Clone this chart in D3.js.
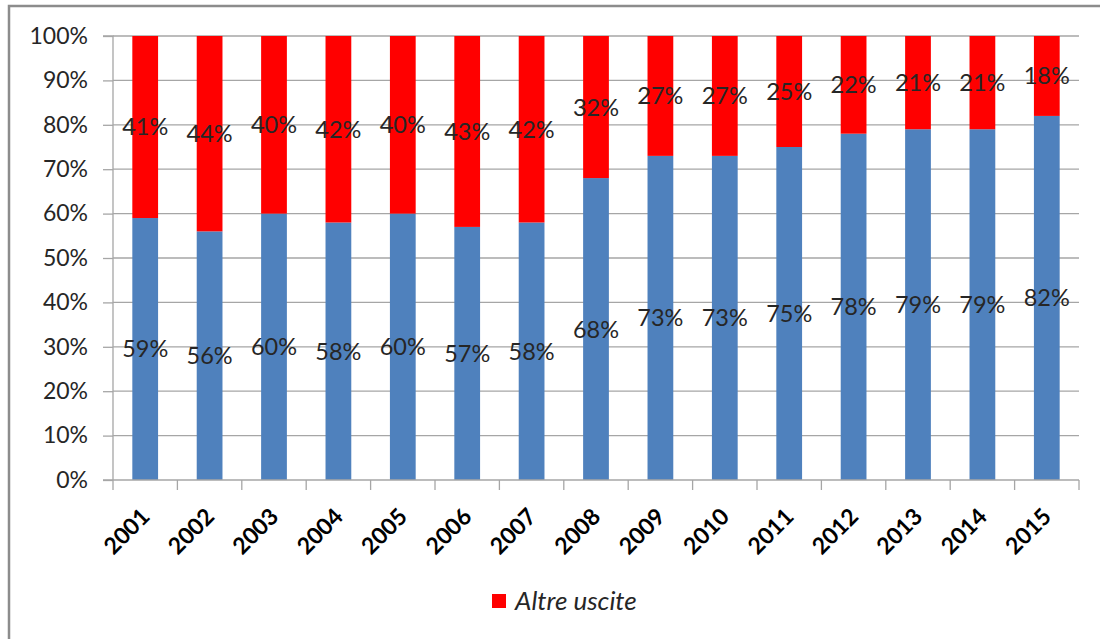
<!DOCTYPE html>
<html>
<head>
<meta charset="utf-8">
<script src="https://cdn.jsdelivr.net/npm/d3@7"></script>
<style>
  html, body { margin: 0; padding: 0; background: #fff; }
  svg { display: block; }
</style>
</head>
<body>
<svg id="chart" width="1100" height="639"></svg>
<script>
// Anni e quote percentuali per ciascun anno
const years = ["2001","2002","2003","2004","2005","2006","2007","2008","2009","2010","2011","2012","2013","2014","2015"];
const mainShare = [59, 56, 60, 58, 60, 57, 58, 68, 73, 73, 75, 78, 79, 79, 82];
const altreUscite = [41, 44, 40, 42, 40, 43, 42, 32, 27, 27, 25, 22, 21, 21, 18];
const yTicks = [0, 10, 20, 30, 40, 50, 60, 70, 80, 90, 100];
const legendLabel = "Altre uscite";

const colors = { main: "#4F81BD", altre: "#FF0000", grid: "#A6A6A6", text: "#262626" };
const font = "Lato, 'Open Sans', sans-serif";

const svg = d3.select("#chart");
const W = 1100, H = 639;
const plot = { left: 113, right: 1079, top: 36, bottom: 480 };

// Cornice del grafico (solo lati sinistro e superiore visibili)
svg.append("path")
  .attr("d", `M9,${H} L9,6 L${W},6`)
  .attr("fill", "none")
  .attr("stroke", "#8C8C8C")
  .attr("stroke-width", 2.5);

const x = d3.scaleBand().domain(years).range([plot.left, plot.right]).paddingInner(0.6).paddingOuter(0.3);
const xb = d3.scaleBand().domain(years).range([plot.left, plot.right]);
const y = d3.scaleLinear().domain([0, 100]).range([plot.bottom, plot.top]);

// Griglia orizzontale
svg.append("g").selectAll("line").data(yTicks.filter(t => t > 0)).join("line")
  .attr("x1", plot.left).attr("x2", plot.right)
  .attr("y1", d => y(d)).attr("y2", d => y(d))
  .attr("stroke", colors.grid).attr("stroke-width", 1.3);

// Barre impilate
const stackData = years.map((yr, i) => ({ year: yr, main: mainShare[i], altre: altreUscite[i] }));
const series = d3.stack().keys(["main", "altre"])(stackData);

const g = svg.append("g");
series.forEach(s => {
  g.append("g").selectAll("rect").data(s).join("rect")
    .attr("x", d => x(d.data.year))
    .attr("width", x.bandwidth())
    .attr("y", d => y(d[1]))
    .attr("height", d => y(d[0]) - y(d[1]))
    .attr("fill", colors[s.key]);
});

// Etichette dei valori al centro di ogni segmento
series.forEach(s => {
  g.append("g").selectAll("text").data(s).join("text")
    .attr("x", d => x(d.data.year) + x.bandwidth() / 2)
    .attr("y", d => y((d[0] + d[1]) / 2))
    .attr("dy", "0.36em")
    .attr("text-anchor", "middle")
    .attr("font-family", font)
    .attr("font-size", 23.5)
    .attr("fill", colors.text)
    .text(d => (d[1] - d[0]) + "%");
});

// Asse Y
const yAxis = svg.append("g")
  .attr("transform", `translate(${plot.left},0)`)
  .call(d3.axisLeft(y).tickValues(yTicks).tickSize(10).tickFormat(d => d + "%"));
yAxis.select(".domain").attr("stroke", colors.grid).attr("stroke-width", 1.3).attr("d", `M-10,${plot.top}H0V${plot.bottom}`);
yAxis.selectAll(".tick line").attr("stroke", colors.grid).attr("stroke-width", 1.3);
yAxis.selectAll(".tick text")
  .attr("x", -25)
  .attr("font-family", font).attr("font-size", 23).attr("fill", colors.text);

// Asse X con tacche tra le categorie
const xAxisG = svg.append("g");
xAxisG.append("line")
  .attr("x1", plot.left - 10).attr("x2", plot.right)
  .attr("y1", plot.bottom).attr("y2", plot.bottom)
  .attr("stroke", colors.grid).attr("stroke-width", 1.3);
const boundaries = years.map(d => xb(d)).concat([plot.right]);
xAxisG.selectAll("line.tk").data(boundaries).join("line")
  .attr("class", "tk")
  .attr("x1", d => d).attr("x2", d => d)
  .attr("y1", plot.bottom).attr("y2", plot.bottom + 10)
  .attr("stroke", colors.grid).attr("stroke-width", 1.3);
xAxisG.selectAll("text").data(years).join("text")
  .attr("transform", d => `translate(${xb(d) + xb.bandwidth() / 2 + 6},${plot.bottom + 38}) rotate(-45)`)
  .attr("text-anchor", "end")
  .attr("font-family", font)
  .attr("font-weight", "bold")
  .attr("font-size", 23)
  .attr("fill", "#000")
  .text(d => d);

// Legenda
const legend = svg.append("g").attr("transform", "translate(492,594)");
legend.append("rect").attr("width", 14).attr("height", 14).attr("fill", colors.altre);
legend.append("text")
  .attr("x", 23).attr("y", 7).attr("dy", "0.36em")
  .attr("font-family", font).attr("font-style", "italic").attr("font-size", 26)
  .attr("fill", colors.text)
  .text(legendLabel);
</script>
</body>
</html>
